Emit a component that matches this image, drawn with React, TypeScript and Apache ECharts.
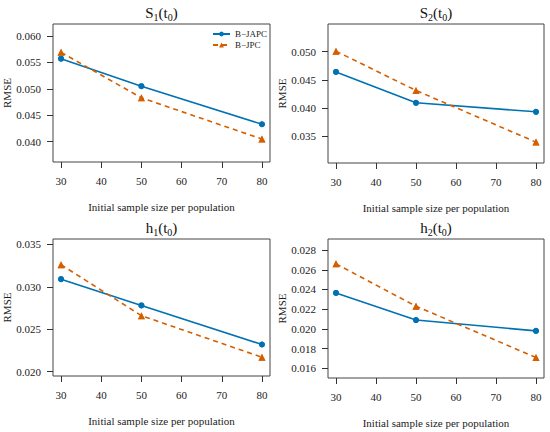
import React, { useEffect, useRef } from "react";
import * as echarts from "echarts";

const xValues = [30, 50, 80];
const xTicks = [30, 40, 50, 60, 70, 80];
const xRange = [28, 82];

const titleMain = ["S", "S", "h", "h"];
const titleSub = ["1", "2", "1", "2"];

const japcS1 = [0.0557, 0.0505, 0.0433];
const jpcS1 = [0.0569, 0.0483, 0.0405];
const japcS2 = [0.0464, 0.0409, 0.0393];
const jpcS2 = [0.0501, 0.0431, 0.0339];
const japcH1 = [0.0309, 0.0278, 0.0232];
const jpcH1 = [0.0326, 0.0266, 0.0217];
const japcH2 = [0.02365, 0.0209, 0.0198];
const jpcH2 = [0.0266, 0.0223, 0.0171];

const yTicksS1 = [0.04, 0.045, 0.05, 0.055, 0.06];
const yTicksS2 = [0.035, 0.04, 0.045, 0.05];
const yTicksH1 = [0.02, 0.025, 0.03, 0.035];
const yTicksH2 = [0.016, 0.018, 0.02, 0.022, 0.024, 0.026, 0.028];

const yRangeS1 = [0.03616, 0.06226];
const yRangeS2 = [0.03018, 0.05494];
const yRangeH1 = [0.01949, 0.03563];
const yRangeH2 = [0.01502, 0.02912];

const seriesNames = ["B\u2212JAPC", "B\u2212JPC"];
const BLUE = "#0072B2";
const ORANGE = "#D55E00";
const FONT = "'Liberation Serif', 'Times New Roman', serif";

const panels = [
  { japc: japcS1, jpc: jpcS1, ticks: yTicksS1, range: yRangeS1 },
  { japc: japcS2, jpc: jpcS2, ticks: yTicksS2, range: yRangeS2 },
  { japc: japcH1, jpc: jpcH1, ticks: yTicksH1, range: yRangeH1 },
  { japc: japcH2, jpc: jpcH2, ticks: yTicksH2, range: yRangeH2 },
];

const grids = [
  { left: 53, top: 24, width: 217, height: 138 },
  { left: 328, top: 24, width: 216, height: 139 },
  { left: 53, top: 239, width: 217, height: 137 },
  { left: 328, top: 239, width: 216, height: 139 },
];

function buildOption() {
  const xAxis: any[] = [];
  const yAxis: any[] = [];
  const series: any[] = [];
  const graphic: any[] = [];

  panels.forEach((p, i) => {
    xAxis.push({
      type: "value",
      gridIndex: i,
      min: xRange[0],
      max: xRange[1],
      axisLine: { show: false },
      splitLine: { show: false },
      axisTick: { show: true, inside: false, length: 6, customValues: xTicks, lineStyle: { color: "#333" } },
      axisLabel: {
        customValues: xTicks,
        margin: 13,
        fontFamily: FONT,
        fontSize: 11,
        color: "#222",
      },
      name: "Initial sample size per population",
      nameLocation: "middle",
      nameGap: 39,
      nameTextStyle: { fontFamily: FONT, fontSize: 11, color: "#222" },
    });
    yAxis.push({
      type: "value",
      gridIndex: i,
      min: p.range[0],
      max: p.range[1],
      axisLine: { show: false },
      splitLine: { show: false },
      axisTick: { show: true, inside: false, length: 6, customValues: p.ticks, lineStyle: { color: "#333" } },
      axisLabel: {
        customValues: p.ticks,
        margin: 12,
        fontFamily: FONT,
        fontSize: 11,
        color: "#222",
        formatter: (v: number) => v.toFixed(3),
      },
      name: "RMSE",
      nameLocation: "middle",
      nameGap: 40,
      nameTextStyle: { fontFamily: FONT, fontSize: 11, color: "#222" },
    });

    const dJapc = xValues.map((x, k) => [x, p.japc[k]]);
    const dJpc = xValues.map((x, k) => [x, p.jpc[k]]);

    series.push({
      name: seriesNames[0],
      type: "line",
      xAxisIndex: i,
      yAxisIndex: i,
      data: dJapc,
      symbol: "circle",
      symbolSize: 6,
      itemStyle: { color: BLUE },
      lineStyle: { color: BLUE, width: 1.6 },
    });
    series.push({
      type: "scatter",
      xAxisIndex: i,
      yAxisIndex: i,
      data: dJapc,
      symbol: "circle",
      symbolSize: 11,
      itemStyle: { color: "#fff" },
      silent: true,
    });
    series.push({
      name: seriesNames[1],
      type: "line",
      xAxisIndex: i,
      yAxisIndex: i,
      data: dJpc,
      symbol: "triangle",
      symbolSize: 7,
      itemStyle: { color: ORANGE },
      lineStyle: { color: ORANGE, width: 1.6, type: [5, 4] },
    });
    series.push({
      type: "scatter",
      xAxisIndex: i,
      yAxisIndex: i,
      data: dJpc,
      symbol: "circle",
      symbolSize: 11,
      itemStyle: { color: "#fff" },
      silent: true,
    });
    series.push({
      type: "scatter",
      xAxisIndex: i,
      yAxisIndex: i,
      data: dJapc,
      symbol: "circle",
      symbolSize: 6,
      itemStyle: { color: BLUE },
    });
    series.push({
      type: "scatter",
      xAxisIndex: i,
      yAxisIndex: i,
      data: dJpc,
      symbol: "triangle",
      symbolSize: 7,
      itemStyle: { color: ORANGE },
    });

    const g = grids[i];
    graphic.push({
      type: "text",
      x: g.left + g.width / 2,
      y: g.top - 11,
      style: {
        text: `{a|${titleMain[i]}}{s|${titleSub[i]}}{a|(t}{s|0}{a|)}`,
        align: "center",
        verticalAlign: "middle",
        rich: {
          a: { fontFamily: FONT, fontSize: 15, lineHeight: 18, verticalAlign: "middle", fill: "#111" },
          s: { fontFamily: FONT, fontSize: 10, lineHeight: 18, verticalAlign: "bottom", fill: "#111", padding: [9, 0, 0, 0] },
        },
      },
    });
  });

  return {
    animation: false,
    backgroundColor: "#fff",
    textStyle: { fontFamily: FONT },
    grid: grids.map((g) => ({ ...g, show: true, borderColor: "#444", borderWidth: 1, containLabel: false })),
    xAxis,
    yAxis,
    series,
    graphic,
    legend: {
      data: seriesNames,
      orient: "vertical",
      left: 212,
      top: 29,
      itemWidth: 17,
      itemHeight: 6,
      itemGap: 1,
      padding: 0,
      textStyle: { fontFamily: FONT, fontSize: 9, color: "#222", lineHeight: 10 },
      selectedMode: false,
    },
  };
}

export default function App() {
  const ref = useRef<HTMLDivElement>(null);
  useEffect(() => {
    if (!ref.current) return;
    const chart = echarts.init(ref.current, undefined, { renderer: "svg" });
    chart.setOption(buildOption() as any);
    return () => chart.dispose();
  }, []);
  return (
    <div
      ref={ref}
      style={{ position: "absolute", left: 0, top: 0, width: 550, height: 432 }}
    />
  );
}
